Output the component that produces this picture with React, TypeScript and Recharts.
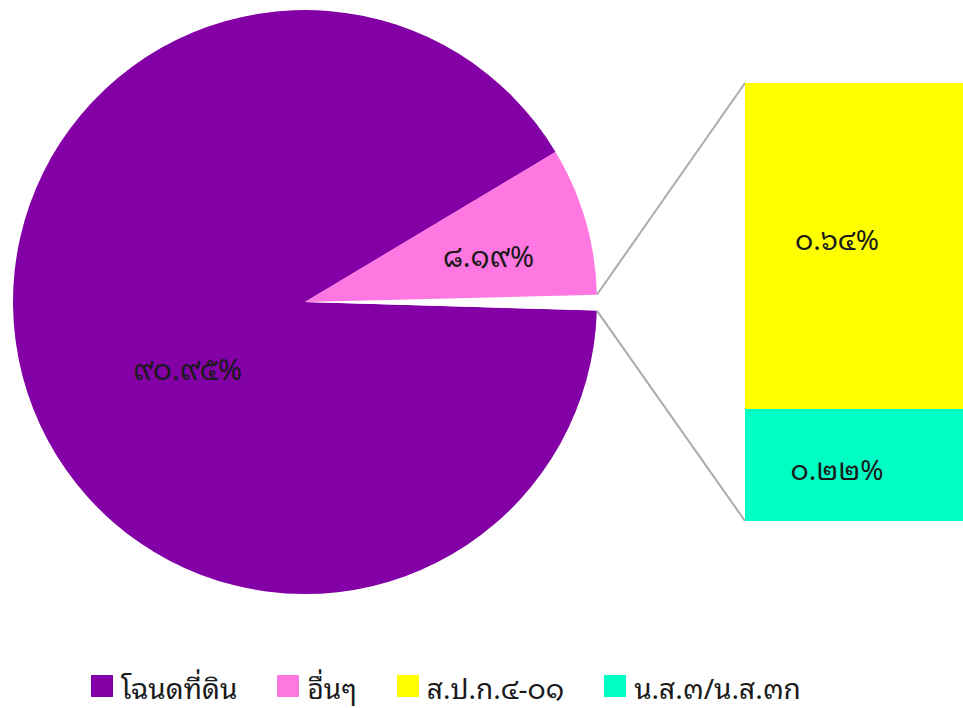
import React from "react";
import { PieChart, Pie, Cell, BarChart, Bar, XAxis, YAxis, LabelList } from "recharts";

// main pie slices (percent)
const pieNames = ["โฉนดที่ดิน", "อื่นๆ"];
const pieValues = [90.95, 8.19];
const pieColors = ["#8300A6", "#FF77E1"];

// split-out bar (percent)
const barNames = ["ส.ป.ก.๔-๐๑", "น.ส.๓/น.ส.๓ก"];
const barValues = [0.64, 0.22];
const barColors = ["#FFFF00", "#00FFC4"];

const FONT = "'Noto Sans Thai Looped', Loma, Garuda, Norasi, 'Tlwg Typo', 'Noto Serif Thai', 'Noto Sans Thai', sans-serif";
const W = 963;
const H = 708;
const CX = 305;
const CY = 302;
const R = 292;
const BAR_LEFT = 745;
const BAR_TOP = 83;
const BAR_W = 218;
const BAR_H = 438;
const START_ANGLE = 30.9;

const thaiDigits = "๐๑๒๓๔๕๖๗๘๙";
const toThai = (v: number) =>
  v.toFixed(2).replace(/[0-9]/g, d => thaiDigits[Number(d)]) + "%";

const otherTotal = barValues.reduce((a, b) => a + b, 0);

// pie order: big slice, gap (split-out), small slice
const pieData = [
  { name: pieNames[0], value: pieValues[0], color: pieColors[0], kind: "main" },
  { name: "other", value: otherTotal, color: "#FFFFFF", kind: "other" },
  { name: pieNames[1], value: pieValues[1], color: pieColors[1], kind: "main" },
];

const barData = [{ name: "other", teal: barValues[1], yellow: barValues[0] }];

const RAD = Math.PI / 180;
const labelTweak: Record<string, { r: number; a: number }> = {
  [pieNames[0]]: { r: 0.46, a: 14.5 },
  [pieNames[1]]: { r: 0.65, a: -1.5 },
};

function PieLabel(props: any) {
  const { cx, cy, outerRadius, startAngle, endAngle, midAngle, index } = props;
  const entry = pieData[index];
  if (entry.kind === "other") {
    const p1 = { x: cx + outerRadius * Math.cos(-endAngle * RAD), y: cy + outerRadius * Math.sin(-endAngle * RAD) };
    const p2 = { x: cx + outerRadius * Math.cos(-startAngle * RAD), y: cy + outerRadius * Math.sin(-startAngle * RAD) };
    return (
      <g>
        <line x1={p1.x} y1={p1.y} x2={BAR_LEFT} y2={BAR_TOP} stroke="#ABABAB" strokeWidth={2} />
        <line x1={p2.x} y1={p2.y} x2={BAR_LEFT} y2={BAR_TOP + BAR_H} stroke="#ABABAB" strokeWidth={2} />
      </g>
    );
  }
  const t = labelTweak[entry.name];
  const ang = (midAngle + t.a) * RAD;
  const x = cx + outerRadius * t.r * Math.cos(-ang);
  const y = cy + outerRadius * t.r * Math.sin(-ang);
  return (
    <text x={x} y={y} textAnchor="middle" dominantBaseline="central" fill="#1a1a1a" fontSize={29} fontFamily={FONT}>
      {toThai(entry.value)}
    </text>
  );
}

const makeBarLabel = (dy: number) => (props: any) => {
  const { x, y, width, height, value } = props;
  return (
    <text x={x + width / 2 - 17} y={y + height / 2 + dy} textAnchor="middle" dominantBaseline="central" fill="#1a1a1a" fontSize={28} fontFamily={FONT}>
      {toThai(value)}
    </text>
  );
};

const legendItems = [
  ...pieNames.map((n, i) => ({ name: n, color: pieColors[i] })),
  ...barNames.map((n, i) => ({ name: n, color: barColors[i] })),
];

export default function App() {
  return (
    <div style={{ position: "absolute", left: 0, top: 0, width: W, height: H, background: "#fff", overflow: "hidden" }}>
      <PieChart width={W} height={620} margin={{ top: 0, right: 0, bottom: 0, left: 0 }}>
        <Pie
          data={pieData}
          dataKey="value"
          nameKey="name"
          cx={CX}
          cy={CY}
          outerRadius={R}
          startAngle={START_ANGLE}
          endAngle={START_ANGLE + 360}
          stroke="none"
          label={PieLabel}
          labelLine={false}
          isAnimationActive={false}
        >
          {pieData.map((d, i) => (
            <Cell key={`cell-${i}`} fill={d.color} />
          ))}
        </Pie>
      </PieChart>
      <div style={{ position: "absolute", left: BAR_LEFT, top: BAR_TOP }}>
        <BarChart width={BAR_W} height={BAR_H} data={barData} margin={{ top: 0, right: 0, bottom: 0, left: 0 }} barCategoryGap={0}>
          <XAxis dataKey="name" hide />
          <YAxis hide domain={[0, otherTotal]} />
          <Bar dataKey="teal" stackId="a" fill={barColors[1]} isAnimationActive={false}>
            <LabelList dataKey="teal" content={makeBarLabel(3)} />
          </Bar>
          <Bar dataKey="yellow" stackId="a" fill={barColors[0]} isAnimationActive={false}>
            <LabelList dataKey="yellow" content={makeBarLabel(-8)} />
          </Bar>
        </BarChart>
      </div>
      <div style={{ position: "absolute", left: 91, top: 664, height: 44, display: "flex", alignItems: "center", fontFamily: FONT, fontSize: 28, color: "#1a1a1a" }}>
        {legendItems.map(item => (
          <div key={item.name} style={{ display: "flex", alignItems: "center", marginRight: 40 }}>
            <span style={{ display: "inline-block", width: 22, height: 22, background: item.color, marginRight: 8 }} />
            <span>{item.name}</span>
          </div>
        ))}
      </div>
    </div>
  );
}
